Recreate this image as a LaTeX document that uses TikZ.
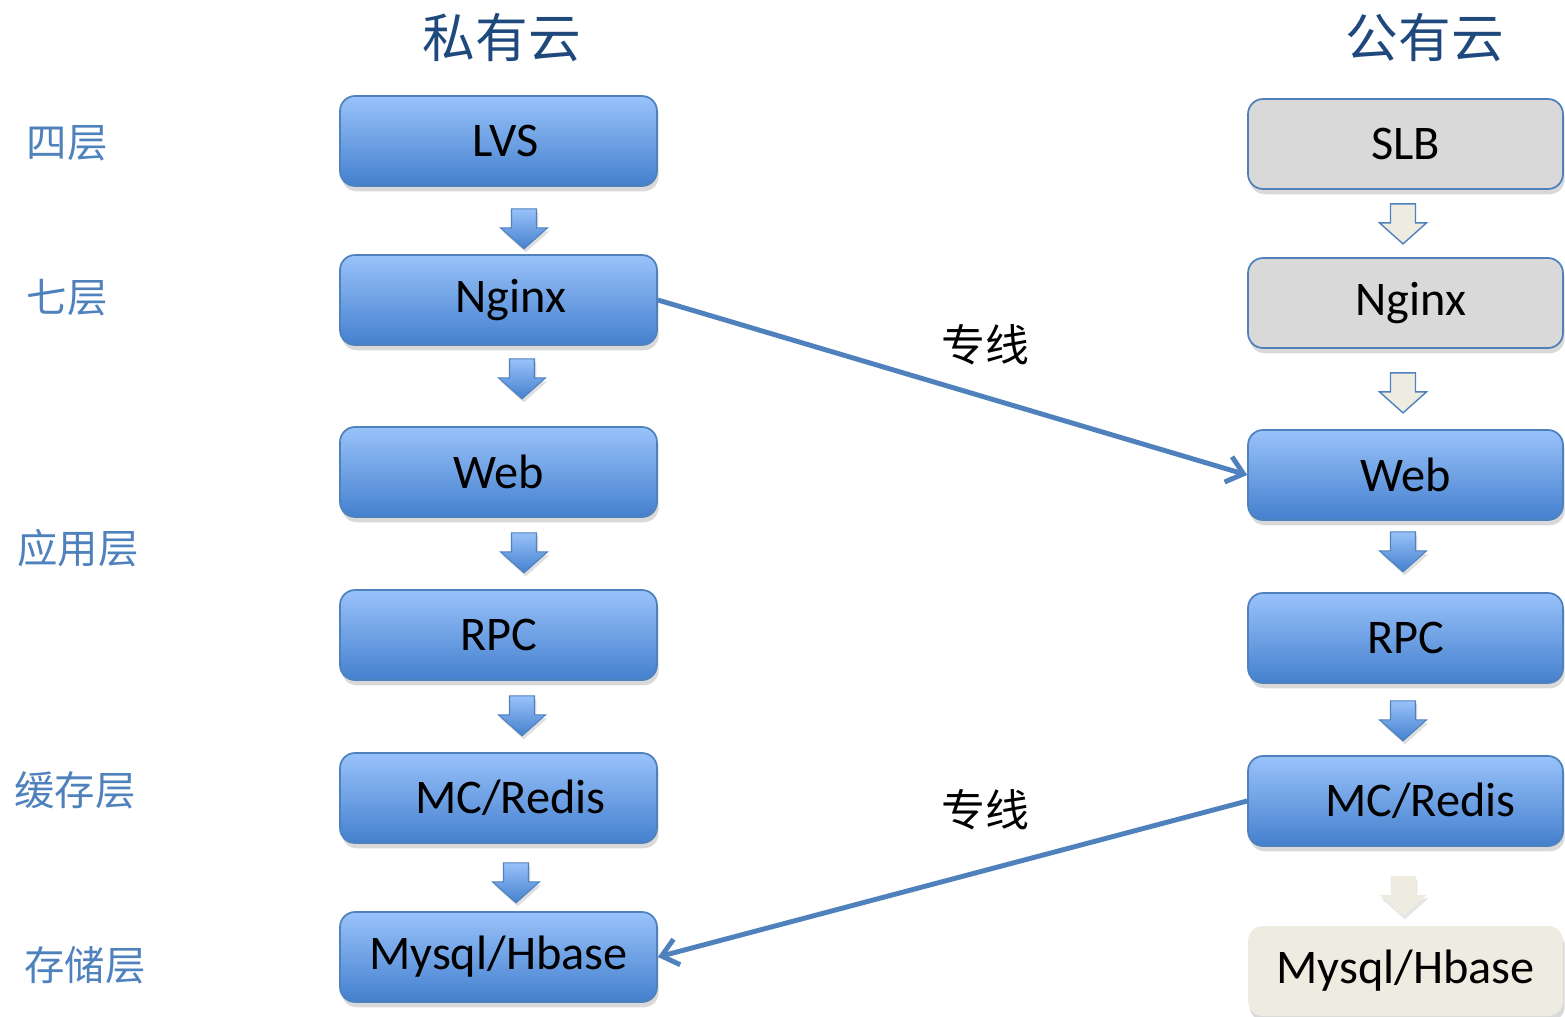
\documentclass[tikz,border=0pt]{standalone}
\usepackage{fontspec}
\setmainfont{Carlito}
\newfontfamily\cjk{Noto Sans CJK SC}
\usetikzlibrary{arrows.meta,shadows,calc}

\definecolor{boxtop}{RGB}{153,194,250}
\definecolor{boxbot}{RGB}{68,128,206}
\definecolor{boxline}{RGB}{79,129,189}
\definecolor{layerblue}{RGB}{79,129,189}
\definecolor{titleblue}{RGB}{31,73,125}
\definecolor{greyfill}{RGB}{217,217,217}
\definecolor{beigefill}{RGB}{238,236,225}

\tikzset{
  pics/downarrow/.style={code={
    \path[#1] (-12.5,0) -- (12.5,0) -- (12.5,19) -- (23.5,19) -- (0,40)
      -- (-23.5,19) -- (-12.5,19) -- cycle;
  }}
}

\begin{document}
\begin{tikzpicture}[x=0.02cm,y=-0.02cm,
    cloudbox/.style={rounded corners=0.3cm,minimum width=6.34cm,minimum height=1.8cm,
      draw=boxline,line width=1pt,font=\fontsize{27.5}{32}\selectfont,
      drop shadow={opacity=.3,shadow xshift=1pt,shadow yshift=-3pt}},
    bluebox/.style={cloudbox,top color=boxtop,bottom color=boxbot},
    greybox/.style={cloudbox,minimum width=6.3cm,fill=greyfill},
    beigebox/.style={cloudbox,minimum width=6.3cm,draw=none,fill=beigefill},
    layer/.style={text=layerblue,font=\cjk\fontsize{23}{26}\selectfont},
    cloudtitle/.style={text=titleblue,font=\cjk\fontsize{30}{34}\selectfont},
    linklabel/.style={font=\cjk\fontsize{25}{30}\selectfont},
    link/.style={draw=boxline,line width=2.8pt,-{Straight Barb[length=9pt,width=15pt]}},
    bluearr/.style={draw=boxline,line width=.6pt,top color=boxtop,bottom color=boxbot,
      drop shadow={opacity=.25,shadow xshift=1pt,shadow yshift=-2pt}},
    beigearr/.style={draw=boxline,line width=.8pt,fill=beigefill},
    softarr/.style={fill=beigefill,
      drop shadow={opacity=.2,shadow xshift=1pt,shadow yshift=-2pt}}]
  \useasboundingbox (0,0) rectangle (1565,1017);

  % titles
  \node[cloudtitle] (private) at (502,38) {私有云};
  \node[cloudtitle] (public) at (1425,38) {公有云};

  % layers
  \node[layer] (l4) at (67,143) {四层};
  \node[layer] (l7) at (67,298) {七层};
  \node[layer] (app) at (78,548) {应用层};
  \node[layer] (cache) at (75,790) {缓存层};
  \node[layer] (store) at (85,965) {存储层};

  % private cloud
  \node[bluebox] (lvs) at (498.5,141) {\hspace*{0.28cm}LVS};
  \node[bluebox] (nginxL) at (498.5,300) {\hspace*{0.5cm}Nginx};
  \node[bluebox] (webL) at (498.5,472) {Web};
  \node[bluebox] (rpcL) at (498.5,635) {RPC};
  \node[bluebox] (mcL) at (498.5,798) {\hspace*{0.48cm}MC/Redis};
  \node[bluebox] (dbL) at (498.5,957) {Mysql/Hbase};

  \pic at ([shift={(25.5,22)}]lvs.south) {downarrow=bluearr};
  \pic at ([shift={(23.5,13)}]nginxL.south) {downarrow=bluearr};
  \pic at ([shift={(25.5,15)}]webL.south) {downarrow=bluearr};
  \pic at ([shift={(23.5,15)}]rpcL.south) {downarrow=bluearr};
  \pic at ([shift={(17.5,19)}]mcL.south) {downarrow=bluearr};

  % public cloud
  \node[greybox] (slb) at (1405.5,144) {SLB};
  \node[greybox] (nginxR) at (1405.5,303) {\hspace*{0.2cm}Nginx};
  \node[bluebox,minimum width=6.3cm] (webR) at (1405.5,475) {Web};
  \node[bluebox,minimum width=6.3cm] (rpcR) at (1405.5,638) {RPC};
  \node[bluebox,minimum width=6.3cm] (mcR) at (1405.5,801) {\hspace*{0.6cm}MC/Redis};
  \node[beigebox] (dbR) at (1405.5,971) {Mysql/Hbase};

  \pic at ([shift={(-2.5,14)}]slb.south) {downarrow=beigearr};
  \pic at ([shift={(-2.5,24)}]nginxR.south) {downarrow=beigearr};
  \pic at ([shift={(-2.5,11)}]webR.south) {downarrow=bluearr};
  \pic at ([shift={(-2.5,17)}]rpcR.south) {downarrow=bluearr};
  \pic at ([shift={(-2.5,29)}]mcR.south) {downarrow=softarr};

  % dedicated lines
  \draw[link] (nginxL.east) -- (webR.west);
  \draw[link] (mcR.west) -- (dbL.east);
  \node[linklabel] (line1) at (985,345) {专线};
  \node[linklabel] (line2) at (985,810) {专线};
\end{tikzpicture}
\end{document}
